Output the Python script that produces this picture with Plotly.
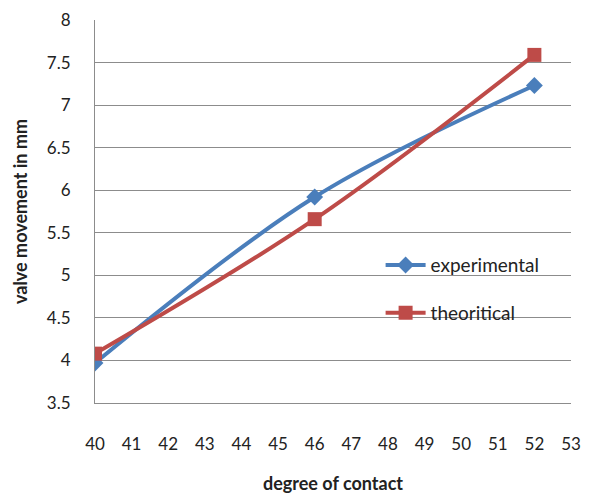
import plotly.graph_objects as go

degree = [40, 46, 52]
experimental = [3.97, 5.92, 7.23]
theoritical = [4.08, 5.66, 7.59]

x_ticks = list(range(40, 54))
y_ticks = [3.5, 4, 4.5, 5, 5.5, 6, 6.5, 7, 7.5, 8]
y_labels = ["3.5", "4", "4.5", "5", "5.5", "6", "6.5", "7", "7.5", "8"]

fig = go.Figure()
fig.add_trace(go.Scatter(
    x=degree, y=experimental, name="experimental", mode="lines+markers",
    line=dict(color="#4A7EBB", width=4, shape="spline", smoothing=1),
    marker=dict(symbol="diamond", size=13, color="#4A7EBB"),
    legend="legend", showlegend=True,
))
fig.add_trace(go.Scatter(
    x=degree, y=theoritical, name="theoritical", mode="lines+markers",
    line=dict(color="#BE4B48", width=4, shape="spline", smoothing=1),
    marker=dict(symbol="square", size=14, color="#BE4B48"),
    legend="legend2", showlegend=True,
))

font_family = "Lato, 'Open Sans', sans-serif"
fig.update_layout(
    width=595, height=493,
    showlegend=True,
    margin=dict(l=87, r=32, t=12, b=98, autoexpand=False),
    paper_bgcolor="white", plot_bgcolor="white",
    font=dict(family=font_family, size=16, color="#222222"),
    legend=dict(x=0.6, y=0.36, xanchor="left", yanchor="middle", itemwidth=40,
                bgcolor="rgba(255,255,255,0)", font=dict(size=19)),
    legend2=dict(x=0.6, y=0.235, xanchor="left", yanchor="middle", itemwidth=40,
                 bgcolor="rgba(255,255,255,0)", font=dict(size=19)),
    xaxis=dict(
        range=[40, 53], tickmode="array", tickvals=x_ticks,
        showgrid=False, zeroline=False,
        showline=True, linecolor="#8c8c8c", linewidth=1,
        ticks="outside", ticklen=26, tickcolor="rgba(0,0,0,0)",
        tickfont=dict(size=17), automargin=False,
        title=dict(text="<b>degree of contact</b>", font=dict(size=18), standoff=23),
    ),
    yaxis=dict(
        range=[3.5, 8], tickmode="array", tickvals=y_ticks, ticktext=y_labels,
        showgrid=True, gridcolor="#8c8c8c", gridwidth=1, zeroline=False,
        showline=True, linecolor="#8c8c8c", linewidth=1,
        ticks="outside", ticklen=20, tickcolor="rgba(0,0,0,0)",
        tickfont=dict(size=17), automargin=False,
        title=dict(text="<b>valve movement in mm</b>", font=dict(size=18), standoff=14),
    ),
)

fig.write_html("out.html")
